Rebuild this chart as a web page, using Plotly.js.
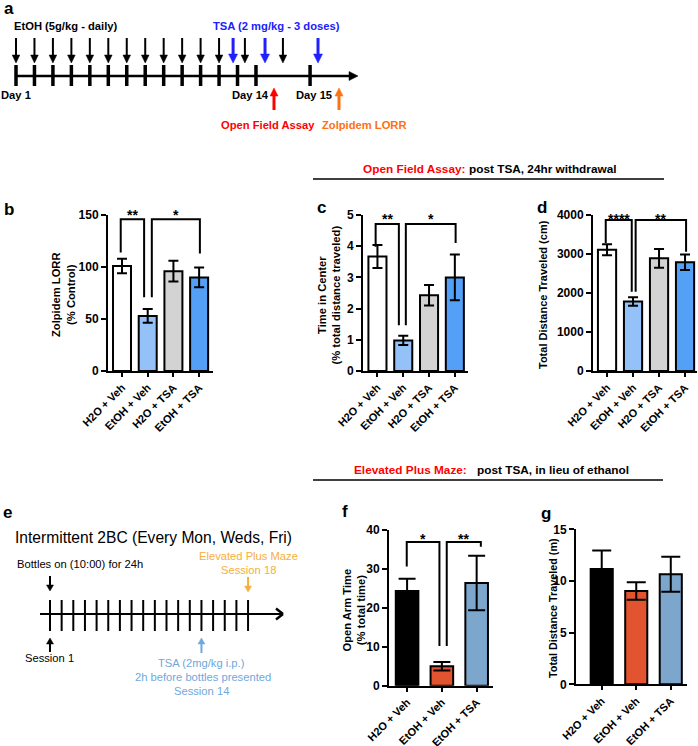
<!DOCTYPE html>
<html><head><meta charset="utf-8">
<script src="https://cdn.plot.ly/plotly-3.0.1.min.js"></script>
<style>html,body{margin:0;padding:0;background:#fff}#chart{width:698px;height:746px}</style>
</head><body><div id="chart"></div>
<script>
const W = 698, H = 746;
const FONT = 'Liberation Sans, Arial, sans-serif';

// ---------- data ----------
const groupsOF = ['H2O + Veh', 'EtOH + Veh', 'H2O + TSA', 'EtOH + TSA'];
const lorrMean = [101, 53, 96, 90];
const lorrSem = [7, 6.5, 10, 9.5];
const centerMean = [3.67, 0.98, 2.43, 3.0];
const centerSem = [0.37, 0.15, 0.33, 0.73];
const distMean = [3110, 1780, 2890, 2790];
const distSem = [140, 110, 240, 200];

const groupsEPM = ['H2O + Veh', 'EtOH + Veh', 'EtOH + TSA'];
const openArmMean = [24.3, 5.0, 26.4];
const openArmSem = [3.2, 1.1, 7.0];
const epmDistMean = [11.15, 9.03, 10.65];
const epmDistSem = [1.8, 0.85, 1.7];

const colorsOF = ['#ffffff', '#94c1f7', '#d3d3d3', '#55a0f7'];
const colorsEPM = ['#000000', '#e2542f', '#7da6cd'];

const ticksB = [0, 50, 100, 150];
const ticksC = [0, 1, 2, 3, 4, 5];
const ticksD = [0, 1000, 2000, 3000, 4000];
const ticksF = [0, 10, 20, 30, 40];
const ticksG = [0, 5, 10, 15];

// schematic timelines (timeline units)
const dayTicksA = [0,1,2,3,4,5,6,7,8,9,10,11,12,13,15.93];
const etohDosesA = [0,1,2,3,4,5,6,7,8,9,10,11,12.4,14.46];
const tsaDosesA = [11.76, 13.49, 16.36];
const sessionsE = [1,2,3,4,5,6,7,8,9,10,11,12,13,14,15,16,17,18];

// ---------- helpers ----------
const px = x => x / W;
const py = y => 1 - y / H;
const shapes = [], annotations = [];

function line(x0, y0, x1, y1, color, width) {
  shapes.push({type:'line', xref:'paper', yref:'paper', x0:px(x0), y0:py(y0), x1:px(x1), y1:py(y1),
    line:{color:color, width:width}});
}
function tri(pts, color) {
  const d = 'M ' + pts.map(p => px(p[0]) + ',' + py(p[1])).join(' L ') + ' Z';
  shapes.push({type:'path', xref:'paper', yref:'paper', path:d, fillcolor:color, line:{color:color, width:0.5}});
}
function arrowDown(x, yTop, yTip, color, w, hw, hh) {
  line(x, yTop, x, yTip - hh + 1, color, w);
  tri([[x - hw, yTip - hh], [x + hw, yTip - hh], [x, yTip]], color);
}
function arrowUp(x, yTip, yBot, color, w, hw, hh) {
  line(x, yBot, x, yTip + hh - 1, color, w);
  tri([[x - hw, yTip + hh], [x + hw, yTip + hh], [x, yTip]], color);
}
function txt(text, x, y, size, opts) {
  opts = opts || {};
  annotations.push({xref:'paper', yref:'paper', x:px(x), y:py(y), text:text, showarrow:false,
    xanchor:opts.xa || 'left', yanchor:'middle', textangle:opts.angle || 0,
    font:{family:FONT, size:size, color:opts.color || '#000', weight:opts.bold === false ? 'normal' : 'bold'}});
}

// ---------- panel a ----------
const xA = u => 16 + u * 18.46;
txt('a', 2, 8, 17);
txt('EtOH (5g/kg - daily)', 12, 26, 11.2);
txt('TSA (2 mg/kg - 3 doses)', 211, 26, 11.2, {color:'#2020ff'});
line(15, 76, 352, 76, '#000', 2.5);
tri([[349, 71.5], [349, 80.5], [358, 76]], '#000');
dayTicksA.forEach(u => line(xA(u), 65, xA(u), 86, '#000', 3.5));
etohDosesA.forEach(u => arrowDown(xA(u), 38, 63, '#000', 2, 3.8, 8));
tsaDosesA.forEach(u => arrowDown(xA(u), 38, 63, '#2020ff', 3, 4.5, 9));
txt('Day 1', -1, 95, 11.2);
txt('Day 14', 230, 95, 11.2);
txt('Day 15', 294, 95, 11.2);
arrowUp(274, 88, 110, '#ff0000', 3, 4, 8);
arrowUp(339, 88, 110, '#ff7012', 3, 4, 8);
txt('Open Field Assay', 219, 125, 11.2, {color:'#ff0000'});
txt('Zolpidem LORR', 320, 125, 11.2, {color:'#ff7012'});

// ---------- headers ----------
txt('Open Field Assay:', 361, 169, 11.8, {color:'#ff0000'});
txt('post TSA, 24hr withdrawal', 467, 169, 11.8);
line(313, 179, 664, 179, '#000', 1.5);
txt('Elevated Plus Maze:', 352, 470, 11.8, {color:'#ff0000'});
txt('post TSA, in lieu of ethanol', 475, 470, 11.8);
line(313, 480, 663, 480, '#000', 1.5);

// ---------- panel e ----------
const xE = s => 50 + (s - 1) * 11.65;
txt('e', 1, 512, 17);
txt('Intermittent 2BC (Every Mon, Weds, Fri)', 13, 537, 15.6, {bold:false});
txt('Bottles on (10:00) for 24h', 15, 564, 11.2, {bold:false});
txt('Elevated Plus Maze', 248, 556, 11.2, {bold:false, xa:'center', color:'#f6ae3c'});
txt('Session 18', 248, 570, 11.2, {bold:false, xa:'center', color:'#f6ae3c'});
line(40, 614, 282, 614, '#000', 2);
line(276, 608.5, 283, 614, '#000', 2.5);
line(276, 619.5, 283, 614, '#000', 2.5);
sessionsE.forEach(s => line(xE(s), 600, xE(s), 631, '#000', 2));
arrowDown(xE(1), 576, 591, '#000', 2, 3.5, 6);
arrowDown(xE(18), 577, 592, '#f6ae3c', 2, 3.5, 6);
arrowUp(xE(1), 638, 652, '#000', 2, 3.5, 6);
arrowUp(xE(14), 638, 653, '#6fa8dc', 2, 3.5, 6);
txt('Session 1', 23, 658, 11.2, {bold:false});
txt('TSA (2mg/kg i.p.)', 202, 663, 11.2, {bold:false, xa:'center', color:'#6fa8dc'});
txt('2h before bottles presented', 203, 677, 11.2, {bold:false, xa:'center', color:'#6fa8dc'});
txt('Session 14', 202, 691, 11.2, {bold:false, xa:'center', color:'#6fa8dc'});

// ---------- bar panels ----------
const panels = [
  {n:'', letter:'b', lx:2, ly:209, xd:[108,213], yd:[215,371], xr:[-0.545,3.54], yr:[0,150], tv:ticksB,
   cats:groupsOF, mean:lorrMean, sem:lorrSem, colors:colorsOF, bw:0.7, cap:5, xfs:11,
   title:'Zolpidem LORR<br>(% Control)', tx:64, ty:295, tfs:11.2,
   brackets:[{xl:-0.05, xr:0.86, top:146, yl:114, yr:71, s:'**', sy:214.5},
             {xl:1.16, xr:3.03, top:146, yl:71, yr:113, s:'*', sy:214.5}]},
  {n:'2', letter:'c', lx:315, ly:208, xd:[363,468], yd:[215,371], xr:[-0.56,3.51], yr:[0,5], tv:ticksC,
   cats:groupsOF, mean:centerMean, sem:centerSem, colors:colorsOF, bw:0.7, cap:5, xfs:11,
   title:'Time in Center<br>(% total distance traveled)', tx:329.5, ty:295, tfs:11.2,
   brackets:[{xl:-0.07, xr:0.83, top:4.71, yl:3.98, yr:1.47, s:'**', sy:219},
             {xl:1.1, xr:3.03, top:4.71, yl:1.47, yr:4.1, s:'*', sy:219}]},
  {n:'3', letter:'d', lx:535, ly:208, xd:[593,697], yd:[215,371], xr:[-0.54,3.46], yr:[0,4000], tv:ticksD,
   cats:groupsOF, mean:distMean, sem:distSem, colors:colorsOF, bw:0.7, cap:5, xfs:11,
   title:'Total Distance Traveled (cm)', tx:543, ty:295, tfs:11,
   brackets:[{xl:-0.05, xr:0.95, top:3870, yl:3280, yr:2030, s:'****', sy:218.5},
             {xl:1.1, xr:3.04, top:3870, yl:2030, yr:3060, s:'**', sy:218.5}]},
  {n:'4', letter:'f', lx:340, ly:511, xd:[389,493], yd:[530,685.7], xr:[-0.52,2.47], yr:[0,40], tv:ticksF,
   cats:groupsEPM, mean:openArmMean, sem:openArmSem, colors:colorsEPM, bw:0.65, cap:8.5, xfs:11,
   title:'Open Arm Time<br>(% total time)', tx:353.5, ty:610, tfs:11.2,
   brackets:[{xl:-0.01, xr:0.93, top:36.9, yl:30.6, yr:10.2, s:'*', sy:539},
             {xl:1.14, xr:2.12, top:36.9, yl:10.2, yr:35.7, s:'**', sy:539}]},
  {n:'5', letter:'g', lx:539, ly:513, xd:[576,687], yd:[529.3,684.3], xr:[-0.745,2.47], yr:[0,15], tv:ticksG,
   cats:groupsEPM, mean:epmDistMean, sem:epmDistSem, colors:colorsEPM, bw:0.64, cap:9.5, xfs:11,
   title:'Total Distance Traveled (m)', tx:553, ty:608, tfs:10.8, brackets:[]}
];

const traces = [];
const layout = {
  width: W, height: H, margin:{l:0, r:0, t:0, b:0},
  paper_bgcolor:'#fff', plot_bgcolor:'rgba(0,0,0,0)',
  font:{family:FONT, color:'#000'}, showlegend:false,
  shapes: shapes, annotations: annotations
};

panels.forEach(p => {
  const xa = 'x' + p.n, ya = 'y' + p.n;
  traces.push({
    type:'bar', x:p.cats.map((_, i) => i), y:p.mean, width:p.bw,
    xaxis:xa, yaxis:ya, hoverinfo:'skip',
    marker:{color:p.colors, line:{color:'#000', width:2}},
    error_y:{type:'data', array:p.sem, visible:true, color:'#000', thickness:2, width:p.cap}
  });
  layout['xaxis' + p.n] = {
    domain:[px(p.xd[0]), px(p.xd[1])], range:p.xr, anchor:ya,
    tickmode:'array', tickvals:p.cats.map((_, i) => i), ticktext:p.cats, tickangle:-45,
    showline:true, linecolor:'#000', linewidth:2, ticks:'outside', ticklen:4, tickwidth:2, tickcolor:'#000',
    showgrid:false, zeroline:false, fixedrange:true,
    tickfont:{family:FONT, size:p.xfs, color:'#000', weight:'bold'}
  };
  layout['yaxis' + p.n] = {
    domain:[py(p.yd[1]), py(p.yd[0])], range:p.yr, anchor:xa,
    tickmode:'array', tickvals:p.tv,
    showline:true, linecolor:'#000', linewidth:2, ticks:'outside', ticklen:5, tickwidth:2, tickcolor:'#000',
    showgrid:false, zeroline:false, fixedrange:true,
    tickfont:{family:FONT, size:12, color:'#000', weight:'bold'}
  };
  txt(p.letter, p.lx, p.ly, 17);
  txt(p.title, p.tx, p.ty, p.tfs, {xa:'center', angle:-90});
  p.brackets.forEach(b => {
    shapes.push({type:'path', xref:xa, yref:ya,
      path:`M ${b.xl},${b.yl} L ${b.xl},${b.top} L ${b.xr},${b.top} L ${b.xr},${b.yr}`,
      line:{color:'#000', width:2}});
    annotations.push({xref:xa, yref:'paper', x:(b.xl + b.xr) / 2, y:py(b.sy), text:b.s, showarrow:false,
      xanchor:'center', yanchor:'middle', font:{family:FONT, size:14, color:'#000', weight:'bold'}});
  });
});

Plotly.newPlot('chart', traces, layout, {displayModeBar:false, staticPlot:true});
</script></body></html>
